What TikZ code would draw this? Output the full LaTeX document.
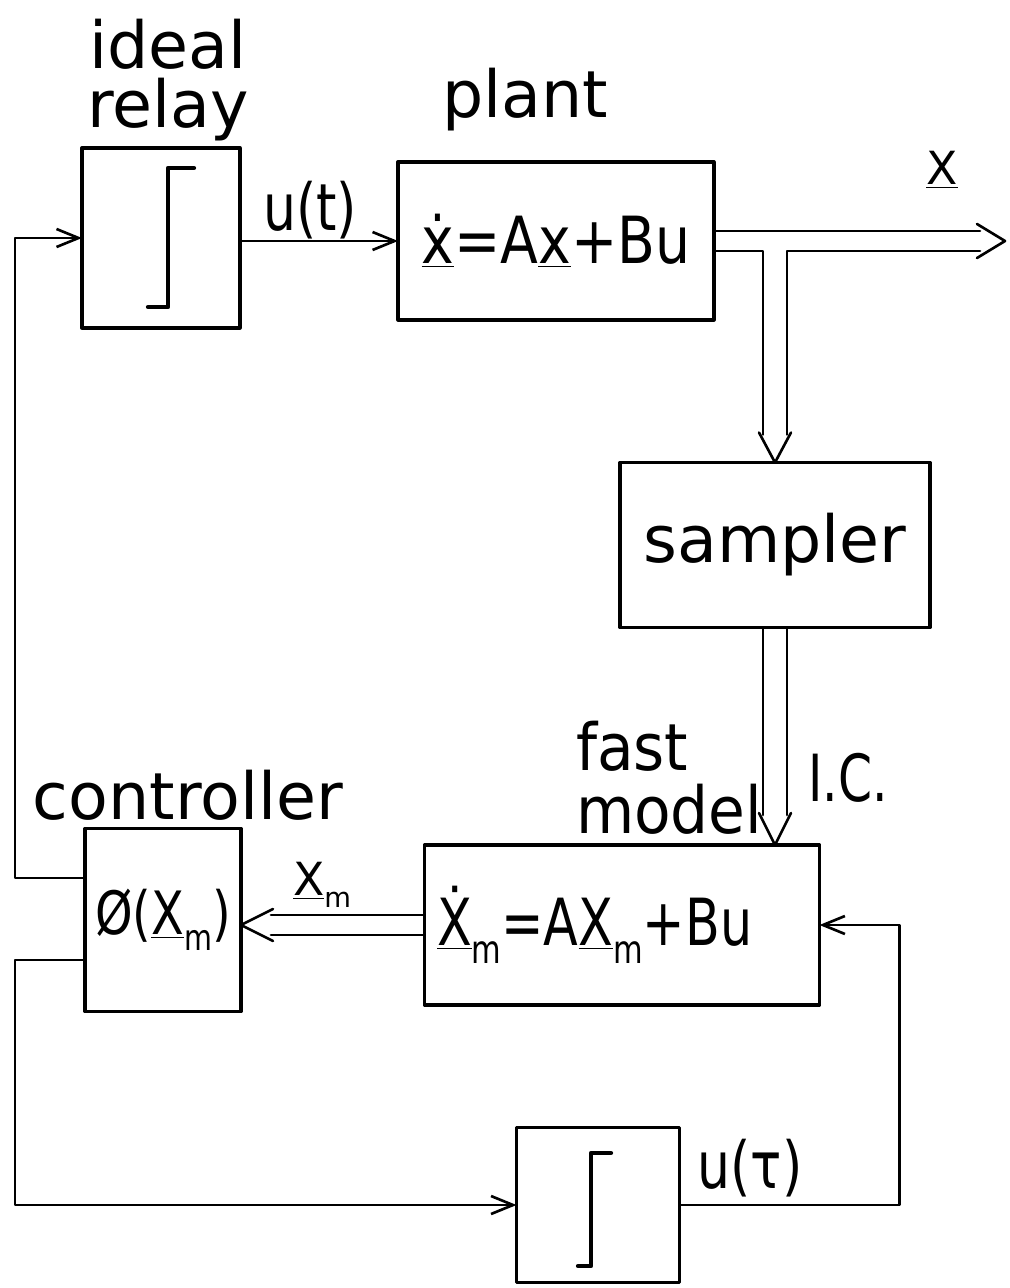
\documentclass[tikz,border=0pt]{standalone}
\usepackage{fontspec}
\setmainfont{DejaVu Sans}
\usetikzlibrary{arrows.meta,calc}

\newcommand{\ulvec}[1]{\underline{#1}}
\newcommand{\subm}{\raisebox{-0.5ex}{\scalebox{0.6}{m}}}

\begin{document}
\begin{tikzpicture}[
    x=0.02cm, y=-0.02cm,
    line cap=round,
    line join=round,
    every node/.style={
        font=\fontsize{37}{34}\selectfont,
        inner sep=0pt, outer sep=0pt
    },
    block/.style={
        draw, line width=1.9pt
    },
    signal/.style={
        line width=1.5pt,
        -{Straight Barb[length=0.44cm,width=0.36cm]}
    },
    pipe/.style={
        line width=1.5pt
    },
    stepline/.style={
        line width=2.4pt
    }
]

\useasboundingbox (0,0) rectangle (1009,1288);

% -------------------------------------------------
% Parameters
% -------------------------------------------------

\def\hw{10}    % half width of a vector line

% -------------------------------------------------
% Blocks
% -------------------------------------------------

\node[block, minimum width=3.16cm, minimum height=3.6cm]
    (relay) at (161,238) {};

\node[block, minimum width=6.32cm, minimum height=3.16cm]
    (plant) at (556,241)
    {\scalebox{0.85}[1]{\ulvec{\.x}=A\ulvec{x}+Bu}};

\node[block, minimum width=6.2cm, minimum height=3.3cm]
    (sampler) at (775,545) {sampler};

\node[block, minimum width=7.9cm, minimum height=3.2cm,
      text width=7.4cm, align=left]
    (fast) at (622,925)
    {\scalebox{0.78}[1]{\ulvec{\.X}\subm=A\ulvec{X}\subm+Bu}};

\node[block, minimum width=3.12cm, minimum height=3.66cm]
    (ctrl) at (163,920)
    {\scalebox{0.8}[1]{\fontsize{34}{34}\selectfont Ø(\ulvec{X}\subm)}};

\node[block, minimum width=3.26cm, minimum height=3.1cm]
    (relay2) at (598,1205) {};

% Relay characteristics
\draw[stepline] ($(relay)+(-13,69)$) -- ++(20,0) -- ++(0,-139) -- ++(26,0);
\draw[stepline] ($(relay2)+(-20,61)$) -- ++(13,0) -- ++(0,-113) -- ++(20,0);

% -------------------------------------------------
% Labels
% -------------------------------------------------

\node[align=center] (relaylbl) at (168,80) {ideal\\relay};
\node (plantlbl) at (525,100) {plant};
\node (ut) at (310,210) {\scalebox{0.8}[1]{u(t)}};
\node[font=\fontsize{26}{26}\selectfont] (xlbl) at (942,170) {\ulvec{X}};
\node[anchor=west] (fastlbl) at (576,778)
    {\scalebox{0.92}[1]{\shortstack[l]{fast\\[4pt]model}}};
\node (iclbl) at (848,778) {\scalebox{0.75}[1]{I.C.}};
\node (ctrllbl) at (188,795) {controller};
\node[font=\fontsize{26}{26}\selectfont] (xmlbl) at (322,885) {\ulvec{X}\subm};
\node (utau) at (750,1168) {\scalebox{0.8}[1]{u(τ)}};

% -------------------------------------------------
% Scalar signals
% -------------------------------------------------

\coordinate (lt) at (15,878);
\coordinate (lb) at (15,960);

\draw[signal] (relay.east |- plant.west) -- (plant.west);
\draw[signal] (ctrl.west |- lt) -- (lt) |- (relay.west);
\draw[signal] (ctrl.west |- lb) -- (lb) |- (relay2.west);
\draw[signal] (relay2.east) -| ($(fast.east)+(80,0)$) -- (fast.east);

% -------------------------------------------------
% Vector signals
% -------------------------------------------------

\coordinate (xout) at (1005,241);   % tip of output arrow
\coordinate (br) at (775,241);      % branch to sampler

\draw[pipe] ($(plant.east)+(0,-\hw)$) -- ($(xout)+(-25,-\hw)$);
\draw[pipe] ($(plant.east)+(0,\hw)$) -- ($(br)+(-12,\hw)$)
    -- ($(sampler.north)+(-12,-28)$);
\draw[pipe] ($(sampler.north)+(12,-28)$) -- ($(br)+(12,\hw)$)
    -- ($(xout)+(-25,\hw)$);
\draw[pipe] ($(xout)+(-28,-17)$) -- (xout) -- ($(xout)+(-28,17)$);
\draw[pipe] ($(sampler.north)+(-16,-30)$) -- (sampler.north)
    -- ($(sampler.north)+(16,-30)$);

% Initial conditions into the fast model
\coordinate (ic) at (sampler.south |- fast.north);

\draw[pipe] ($(sampler.south)+(-12,0)$) -- ($(ic)+(-12,-30)$);
\draw[pipe] ($(sampler.south)+(12,0)$) -- ($(ic)+(12,-30)$);
\draw[pipe] ($(ic)+(-16,-32)$) -- (ic) -- ($(ic)+(16,-32)$);

% Model state into the controller
\coordinate (xm) at (ctrl.east |- fast.west);

\draw[pipe] ($(fast.west)+(0,-\hw)$) -- ($(xm)+(30,-\hw)$);
\draw[pipe] ($(fast.west)+(0,\hw)$) -- ($(xm)+(30,\hw)$);
\draw[pipe] ($(xm)+(32,-16)$) -- (xm) -- ($(xm)+(32,16)$);

\end{tikzpicture}
\end{document}
